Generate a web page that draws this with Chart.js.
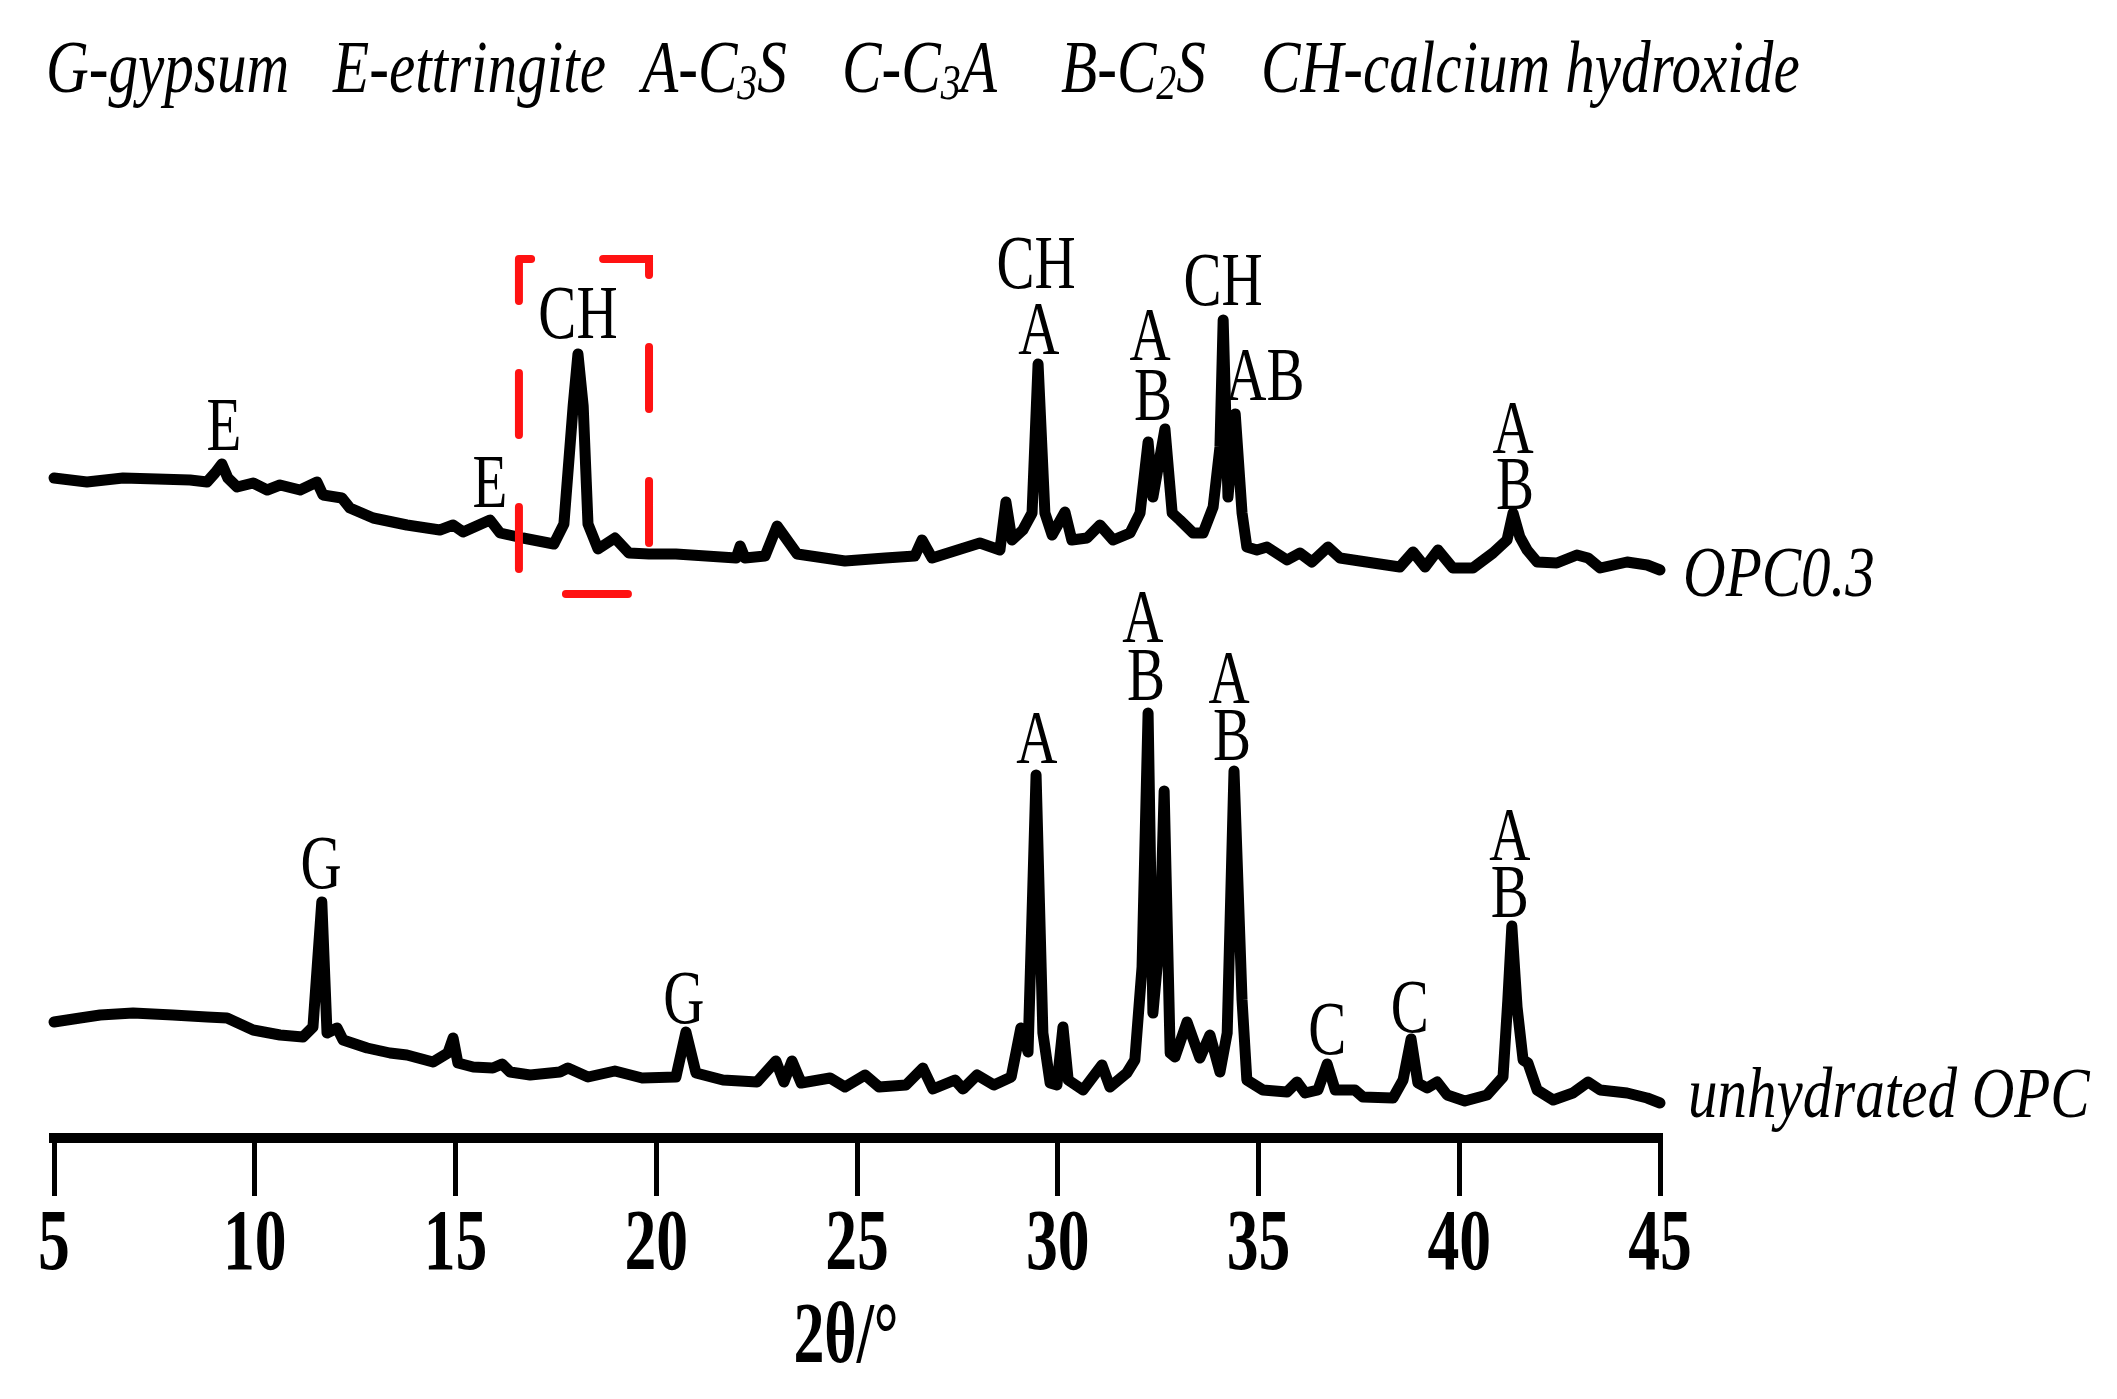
<!DOCTYPE html>
<html>
<head>
<meta charset="utf-8">
<script src="https://cdn.jsdelivr.net/npm/chart.js@4.4.1/dist/chart.umd.min.js"></script>
<style>
  html, body { margin: 0; padding: 0; background: #ffffff; }
  canvas { display: block; }
</style>
</head>
<body>
<canvas id="c" width="2117" height="1399"></canvas>
<script>
// ---------------- DATA ----------------
// 2θ positions (degrees) and relative intensity (arbitrary units, stacked offsets)
const opcTheta = [5.00,5.82,6.72,7.57,8.39,8.81,9.01,9.18,9.33,9.56,
  9.96,10.31,10.63,11.13,11.55,11.70,12.17,12.37,12.95,13.79,
  14.61,14.94,15.19,15.86,16.11,16.68,17.45,17.70,17.93,18.05,
  18.18,18.30,18.55,18.97,19.32,19.82,20.49,21.99,22.09,22.21,
  22.71,23.01,23.51,24.70,25.70,26.44,26.62,26.87,28.06,28.56,
  28.71,28.86,29.13,29.36,29.51,29.68,29.86,30.18,30.35,30.73,
  31.05,31.38,31.80,32.05,32.25,32.37,32.67,32.85,33.04,33.37,
  33.62,33.87,34.04,34.12,34.24,34.42,34.59,34.71,34.96,35.21,
  35.71,36.03,36.33,36.73,37.03,37.85,38.52,38.85,39.15,39.47,
  39.84,40.34,40.84,41.19,41.34,41.51,41.69,41.94,42.43,42.93,
  43.21,43.51,44.18,44.68,45.00];
const opcIntensity = [660,656,660,659,658,656,665,674,660,651,
  655,648,653,648,656,643,640,630,620,613,
  608,613,606,618,605,600,594,614,732,784,
  732,614,589,600,585,584,584,580,592,580,
  582,612,584,577,580,582,598,580,595,588,
  636,598,608,625,774,625,603,626,598,600,
  613,598,605,625,696,641,709,625,618,605,
  605,631,691,818,641,724,625,591,588,591,
  578,585,576,591,580,575,571,586,571,588,
  570,570,585,598,625,601,588,576,575,583,
  580,570,576,573,568];

const rawTheta = [5.00,5.65,6.15,6.97,7.96,8.81,9.31,9.96,10.63,11.20,
  11.45,11.67,11.80,12.05,12.20,12.80,13.37,13.79,14.44,14.81,
  14.94,15.06,15.44,15.93,16.16,16.36,16.86,17.60,17.80,18.30,
  18.97,19.65,20.49,20.74,20.99,21.66,22.51,22.98,23.18,23.38,
  23.61,24.33,24.70,25.20,25.55,26.22,26.64,26.89,27.44,27.64,
  27.99,28.41,28.84,29.08,29.26,29.46,29.63,29.81,29.98,30.13,
  30.26,30.63,31.10,31.30,31.72,31.92,32.10,32.25,32.37,32.55,
  32.65,32.80,32.92,33.22,33.54,33.79,34.04,34.22,34.39,34.59,
  34.71,35.11,35.71,35.96,36.16,36.48,36.71,36.91,37.40,37.60,
  38.35,38.60,38.80,38.97,39.20,39.45,39.70,40.14,40.69,41.09,
  41.21,41.31,41.44,41.59,41.71,41.94,42.34,42.83,43.21,43.51,
  44.18,44.68,45.00];
const rawIntensity = [116,120,123,125,123,121,120,108,103,101,
  111,236,105,110,98,90,85,83,76,85,
  100,75,71,70,74,66,63,66,70,61,
  67,60,61,106,65,58,56,77,56,77,
  55,60,51,63,51,53,70,49,58,49,
  63,53,61,110,86,363,105,55,53,111,
  58,48,73,51,65,78,171,425,125,205,
  347,85,81,116,80,103,66,105,367,138,
  58,48,46,56,45,48,74,48,48,41,
  40,58,99,55,50,56,43,37,43,61,
  138,212,131,78,75,48,38,45,56,48,
  45,40,35];

const seriesNames = ['OPC0.3', 'unhydrated OPC'];
const xTickLabels = ['5','10','15','20','25','30','35','40','45'];
const xAxisTitle = '2θ/°';
const legendItems = ['G-gypsum', 'E-ettringite', 'A-C_3S', 'C-C_3A', 'B-C_2S', 'CH-calcium hydroxide'];

// phase labels: text, 2θ, intensity level of label baseline
const peakLabels = [
  ['E', 9.23, 688], ['E', 15.86, 631], ['CH', 18.05, 800],
  ['CH', 29.46, 850], ['A', 29.53, 784],
  ['A', 32.30, 778], ['B', 32.37, 718],
  ['CH', 34.12, 833], ['AB', 35.16, 738],
  ['A', 41.34, 685], ['B', 41.39, 629],
  ['G', 11.65, 250], ['G', 20.69, 115],
  ['A', 29.48, 375],
  ['A', 32.12, 496], ['B', 32.20, 438],
  ['A', 34.27, 435], ['B', 34.34, 378],
  ['C', 36.71, 84], ['C', 38.77, 106],
  ['A', 41.26, 278], ['B', 41.26, 221]
];
// highlighted region (red dashed box): 2θ range and intensity range
const boxTheta = [16.58, 19.82];
const boxIntensity = [544, 879];

// ---------------- drawing helpers ----------------
const SERIF = '"Liberation Serif", "Times New Roman", serif';
function drawCondensed(ctx, text, x, y, font, sx, align) {
  ctx.save();
  ctx.font = font;
  const w = ctx.measureText(text).width * sx;
  let x0 = x;
  if (align === 'center') x0 = x - w / 2;
  else if (align === 'right') x0 = x - w;
  ctx.translate(x0, y);
  ctx.scale(sx, 1);
  ctx.textAlign = 'left';
  ctx.textBaseline = 'alphabetic';
  ctx.fillStyle = '#000';
  ctx.fillText(text, 0, 0);
  ctx.restore();
  return w;
}
function drawWithSubs(ctx, str, x, y, size, sx) {
  // '_d' marks a subscript digit
  let cx = x;
  for (let i = 0; i < str.length; i++) {
    if (str[i] === '_') {
      const d = str[i + 1];
      cx += drawCondensed(ctx, d, cx, y + 7, 'italic ' + Math.round(size * 0.68) + 'px ' + SERIF, sx, 'left');
      i++;
    } else {
      let j = i;
      while (j < str.length && str[j] !== '_') j++;
      cx += drawCondensed(ctx, str.slice(i, j), cx, y, 'italic ' + size + 'px ' + SERIF, sx, 'left');
      i = j - 1;
    }
  }
}

const legendX = [46, 333, 642, 842, 1061, 1261];

const textPlugin = {
  id: 'textPlugin',
  afterDatasetsDraw(chart) {
    const ctx = chart.ctx;
    const xs = chart.scales.x, ys = chart.scales.y;
    // red dashed box
    ctx.save();
    ctx.strokeStyle = 'rgb(255,18,18)';
    ctx.lineWidth = 8;
    ctx.lineCap = 'round';
    ctx.setLineDash([62, 72]);
    ctx.lineDashOffset = 20;
    const bx0 = xs.getPixelForValue(boxTheta[0]), bx1 = xs.getPixelForValue(boxTheta[1]);
    const by0 = ys.getPixelForValue(boxIntensity[1]), by1 = ys.getPixelForValue(boxIntensity[0]);
    ctx.beginPath();
    ctx.moveTo(bx0, by0);
    ctx.lineTo(bx0, by1);
    ctx.lineTo(bx1, by1);
    ctx.lineTo(bx1, by0);
    ctx.lineTo(bx0, by0);
    ctx.stroke();
    ctx.restore();

    // peak labels
    peakLabels.forEach(([t, th, v]) => {
      drawCondensed(ctx, t, xs.getPixelForValue(th), ys.getPixelForValue(v), '76px ' + SERIF, 0.75, 'center');
    });
  },
  afterDraw(chart) {
    const ctx = chart.ctx;
    const xs = chart.scales.x;
    // tick labels
    xs.ticks.forEach((t, i) => {
      drawCondensed(ctx, xTickLabels[i], xs.getPixelForValue(t.value), 1269, 'bold 86px ' + SERIF, 0.74, 'center');
    });
    // axis title
    drawCondensed(ctx, xAxisTitle, 846, 1362, 'bold 86px ' + SERIF, 0.72, 'center');
    // series names
    drawCondensed(ctx, seriesNames[0], 1683, 596, 'italic 72px ' + SERIF, 0.82, 'left');
    drawCondensed(ctx, seriesNames[1], 1688, 1117, 'italic 72px ' + SERIF, 0.82, 'left');
    // phase key at top
    legendItems.forEach((s, i) => drawWithSubs(ctx, s, legendX[i], 92, 74, 0.8));
  }
};

const toPoints = (xs, ys) => xs.map((x, i) => ({ x: x, y: ys[i] }));

new Chart(document.getElementById('c'), {
  type: 'line',
  data: {
    datasets: [
      { label: seriesNames[0], data: toPoints(opcTheta, opcIntensity) },
      { label: seriesNames[1], data: toPoints(rawTheta, rawIntensity) }
    ]
  },
  options: {
    responsive: false,
    animation: false,
    devicePixelRatio: 1,
    parsing: false,
    layout: { padding: { left: 54, right: 457, top: 138, bottom: 203 } },
    elements: {
      line: { borderColor: '#000', borderWidth: 11, tension: 0, fill: false, borderJoinStyle: 'round', borderCapStyle: 'round' },
      point: { radius: 0, hoverRadius: 0 }
    },
    datasets: { line: { clip: false } },
    plugins: { legend: { display: false }, tooltip: { enabled: false } },
    scales: {
      x: {
        type: 'linear', min: 5, max: 45,
        ticks: { display: false, stepSize: 5 },
        grid: { display: true, drawOnChartArea: false, drawTicks: true, tickLength: 58, lineWidth: 5, color: '#000' },
        border: { display: true, width: 10, color: '#000' }
      },
      y: { type: 'linear', min: 0, max: 1000, display: false }
    }
  },
  plugins: [textPlugin]
});
</script>
</body>
</html>
